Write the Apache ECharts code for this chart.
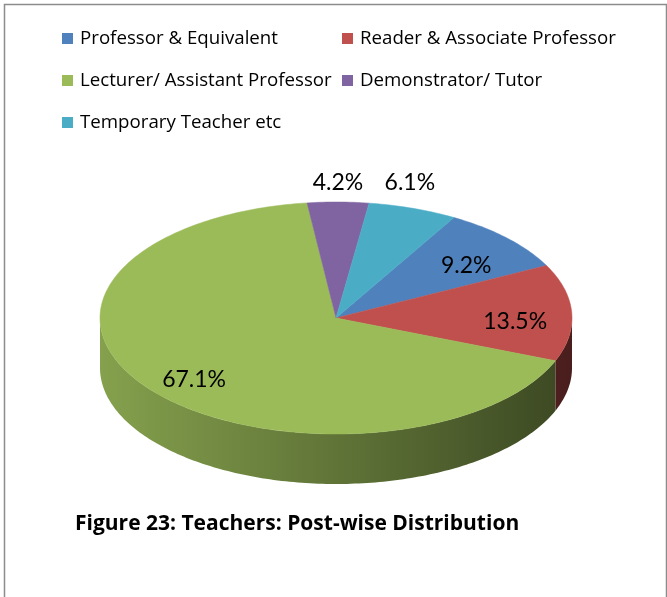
<!DOCTYPE html>
<html>
<head>
<meta charset="utf-8">
<script src="https://cdn.jsdelivr.net/npm/echarts@6/dist/echarts.min.js"></script>
<style>
  html, body { margin: 0; padding: 0; background: #fff; }
  #chart { width: 667px; height: 597px; }
</style>
</head>
<body>
<div id="chart"></div>
<script>
// data
const posts = ['Professor & Equivalent', 'Reader & Associate Professor', 'Lecturer/ Assistant Professor', 'Demonstrator/ Tutor', 'Temporary Teacher etc']
const shares = [9.2, 13.5, 67.1, 4.2, 6.1]
const colors = ['#4F81BD', '#C0504D', '#9BBB59', '#8064A2', '#4BACC6']

// pie layout (3d look: ellipse top + front wall)
const cx = 336
const cy = 318
const rx = 236
const ry = 116
const depth = 50
const startDeg = 30

const total = shares.reduce((a, b) => a + b, 0)

function pt (deg, k, dy) {
  const r = deg * Math.PI / 180
  return [cx + rx * k * Math.sin(r), cy - ry * k * Math.cos(r) + (dy || 0)]
}

function arc (a, b, dy) {
  const pts = []
  const n = Math.max(2, Math.ceil(b - a))
  for (let j = 0; j <= n; j++) pts.push(pt(a + (b - a) * j / n, 1, dy))
  return pts
}

function shade (hex, f) {
  const n = parseInt(hex.slice(1), 16)
  const c = [(n >> 16) & 255, (n >> 8) & 255, n & 255].map(v => Math.round(v * f))
  return 'rgb(' + c.join(',') + ')'
}

function renderItem (params, api) {
  const i = params.dataIndex
  const v = api.value(0)
  let before = 0
  for (let j = 0; j < i; j++) before += shares[j]
  const a = startDeg + 360 * before / total
  const b = a + 360 * v / total
  const color = colors[i]
  const children = []

  // front wall, visible where the rim faces the viewer
  const ranges = [[90, 270], [450, 630]]
  ranges.forEach(r => {
    const s = Math.max(a, r[0])
    const e = Math.min(b, r[1])
    if (e > s) {
      const top = arc(s, e, 0)
      const bot = arc(s, e, depth).reverse()
      children.push({
        type: 'polygon',
        shape: { points: top.concat(bot) },
        style: {
          fill: {
            type: 'linear',
            x: cx - rx, y: 0, x2: cx + rx, y2: 0,
            global: true,
            colorStops: [
              { offset: 0, color: shade(color, 0.86) },
              { offset: 1, color: shade(color, 0.38) }
            ]
          },
          stroke: null
        }
      })
    }
  })

  // top face
  children.push({
    type: 'polygon',
    shape: { points: [[cx, cy]].concat(arc(a, b, 0)) },
    style: { fill: color, stroke: color, lineWidth: 0.5 }
  })

  // label: small slices outside the rim, others inside
  const mid = (a + b) / 2
  const small = v < 8
  let lp
  if (small) {
    lp = [pt(mid, 0.96, 0)[0], cy - ry * 1.17]
  } else {
    lp = pt(mid, 0.76, 8)
  }
  children.push({
    type: 'text',
    z2: 10,
    style: {
      text: v.toFixed(1) + '%',
      x: lp[0],
      y: lp[1],
      align: 'center',
      verticalAlign: 'middle',
      fontFamily: 'Lato',
      fontSize: 23,
      fill: '#000'
    }
  })

  return { type: 'group', children: children }
}

const chart = echarts.init(document.getElementById('chart'))

const legendText = { fontFamily: 'Open Sans', fontSize: 18.7, color: '#000', padding: [0, 0, 0, 2] }

chart.setOption({
  animation: false,
  backgroundColor: '#fff',
  title: {
    text: 'Figure 23: Teachers: Post-wise Distribution',
    left: 75,
    top: 514,
    padding: 0,
    textStyle: { fontFamily: 'Open Sans', fontWeight: 'bold', fontSize: 21, color: '#000' }
  },
  legend: [
    {
      orient: 'vertical',
      left: 62,
      top: 29,
      padding: 0,
      itemGap: 23,
      itemWidth: 11,
      itemHeight: 11,
      icon: 'rect',
      selectedMode: false,
      data: [posts[0], posts[2], posts[4]],
      textStyle: legendText
    },
    {
      orient: 'vertical',
      left: 342,
      top: 29,
      padding: 0,
      itemGap: 23,
      itemWidth: 11,
      itemHeight: 11,
      icon: 'rect',
      selectedMode: false,
      data: [posts[1], posts[3]],
      textStyle: legendText
    }
  ],
  graphic: [
    {
      type: 'rect',
      left: 2,
      top: 2,
      shape: { width: 662, height: 640 },
      style: { fill: null, stroke: '#8c8c8c', lineWidth: 1.5 },
      silent: true
    }
  ],
  series: [
    {
      // hidden pie only feeds the legend
      type: 'pie',
      radius: 0,
      silent: true,
      label: { show: false },
      labelLine: { show: false },
      data: posts.map((n, i) => ({ name: n, value: shares[i], itemStyle: { color: colors[i] } }))
    },
    {
      type: 'custom',
      coordinateSystem: 'none',
      silent: true,
      renderItem: renderItem,
      data: shares.map(v => [v])
    }
  ]
})
</script>
</body>
</html>
